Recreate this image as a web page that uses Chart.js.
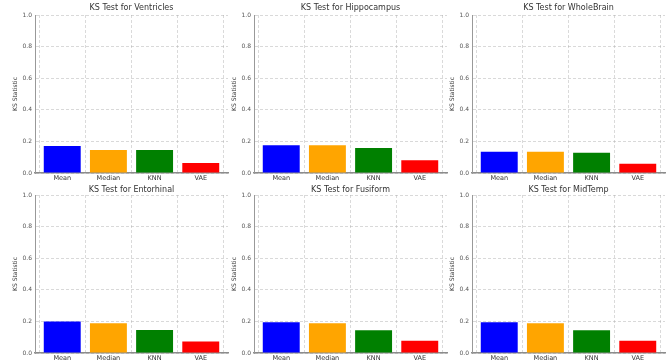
<!DOCTYPE html>
<html>
<head>
<meta charset="utf-8">
<script src="https://cdn.jsdelivr.net/npm/chart.js@4.4.1/dist/chart.umd.min.js"></script>
<style>
  body { margin: 0; background: #fff; width: 672px; height: 363px; overflow: hidden; position: relative; }
  .box { position: absolute; width: 241px; }
  .box.top { top: 0; height: 180px; }
  .box.bot { top: 180px; height: 183px; }
</style>
</head>
<body>
<div class="box top" style="left:11px"><canvas id="c0"></canvas></div>
<div class="box top" style="left:230px"><canvas id="c1"></canvas></div>
<div class="box top" style="left:448px"><canvas id="c2"></canvas></div>
<div class="box bot" style="left:11px"><canvas id="c3"></canvas></div>
<div class="box bot" style="left:230px"><canvas id="c4"></canvas></div>
<div class="box bot" style="left:448px"><canvas id="c5"></canvas></div>
<script>
// methods on the x axis
var methods = ['Mean', 'Median', 'KNN', 'VAE'];
var colors  = ['#0000ff', '#ffa500', '#008000', '#ff0000'];
var yTicks  = [0.0, 0.2, 0.4, 0.6, 0.8, 1.0];

// KS statistic per region
var regions     = ['Ventricles', 'Hippocampus', 'WholeBrain', 'Entorhinal', 'Fusiform', 'MidTemp'];
var ventricles  = [0.171, 0.146, 0.146, 0.063];
var hippocampus = [0.175, 0.175, 0.158, 0.080];
var wholebrain  = [0.135, 0.135, 0.128, 0.059];
var entorhinal  = [0.199, 0.188, 0.146, 0.072];
var fusiform    = [0.195, 0.188, 0.144, 0.078];
var midtemp     = [0.195, 0.188, 0.144, 0.078];
var values = [ventricles, hippocampus, wholebrain, entorhinal, fusiform, midtemp];

var font = 'DejaVu Sans';

function makeChart(i){
    var top = i < 3;
    var pts = values[i].map(function(v, k){ return {x: k, y: v}; });
    new Chart(document.getElementById('c' + i), {
        type : 'bar',
        data : {
            datasets : [{
                data : pts,
                backgroundColor : colors,
                borderWidth : 0,
                categoryPercentage : 1,
                barPercentage : 0.8
            }]
        },
        options : {
            responsive : true,
            maintainAspectRatio : false,
            animation : false,
            events : [],
            layout : { padding : 0 },
            plugins : {
                legend : { display: false },
                tooltip : { enabled: false },
                title : {
                    display : true,
                    text : 'KS Test for ' + regions[i],
                    color : '#333',
                    font : { family: font, size: 8, weight: 'normal', lineHeight: 1.2 },
                    padding : top ? { top: 3, bottom: 2.4 } : { top: 5.4, bottom: 0 }
                }
            },
            scales : {
                x : {
                    type : 'linear',
                    offset : false,
                    min : -0.59,
                    max : 3.59,
                    z : 1,
                    afterFit : function(s){ s.height = top ? 7 : 10; },
                    afterBuildTicks : function(s){ s.ticks = methods.map(function(m, k){ return {value: k}; }); },
                    ticks : {
                        padding : 1,
                        maxRotation : 0,
                        autoSkip : false,
                        color : '#333',
                        font : { family: font, size: 6.5 },
                        callback : function(v){ return methods[v] || ''; }
                    },
                    grid : { color: 'rgba(150,150,150,0.35)', drawTicks: false },
                    border : { display: true, color: '#8c8c8c', width: 1.5, dash: [3, 2] }
                },
                y : {
                    min : 0,
                    max : 1,
                    afterFit : function(s){ s.width = 24; },
                    afterBuildTicks : function(s){ s.ticks = yTicks.map(function(v){ return {value: v}; }); },
                    ticks : {
                        padding : 3,
                        color : '#555',
                        font : { family: font, size: 6 },
                        callback : function(v){ return v.toFixed(1); }
                    },
                    title : {
                        display : true,
                        text : 'KS Statistic',
                        color : '#333',
                        font : { family: font, size: 6 },
                        padding : { top: 1, bottom: 0 }
                    },
                    grid : { color: 'rgba(170,170,170,0.45)', drawTicks: false },
                    border : { display: true, color: '#999', width: 1, dash: [3, 2] }
                },
                // empty right-hand box so the title sits centred over the plot
                yr : {
                    position : 'right',
                    min : 0,
                    max : 1,
                    afterFit : function(s){ s.width = 24; },
                    ticks : { display: false },
                    grid : { display: false, drawTicks: false },
                    border : { display: false }
                }
            }
        }
    });
}

for (var i = 0; i < regions.length; i++) makeChart(i);
</script>
</body>
</html>
